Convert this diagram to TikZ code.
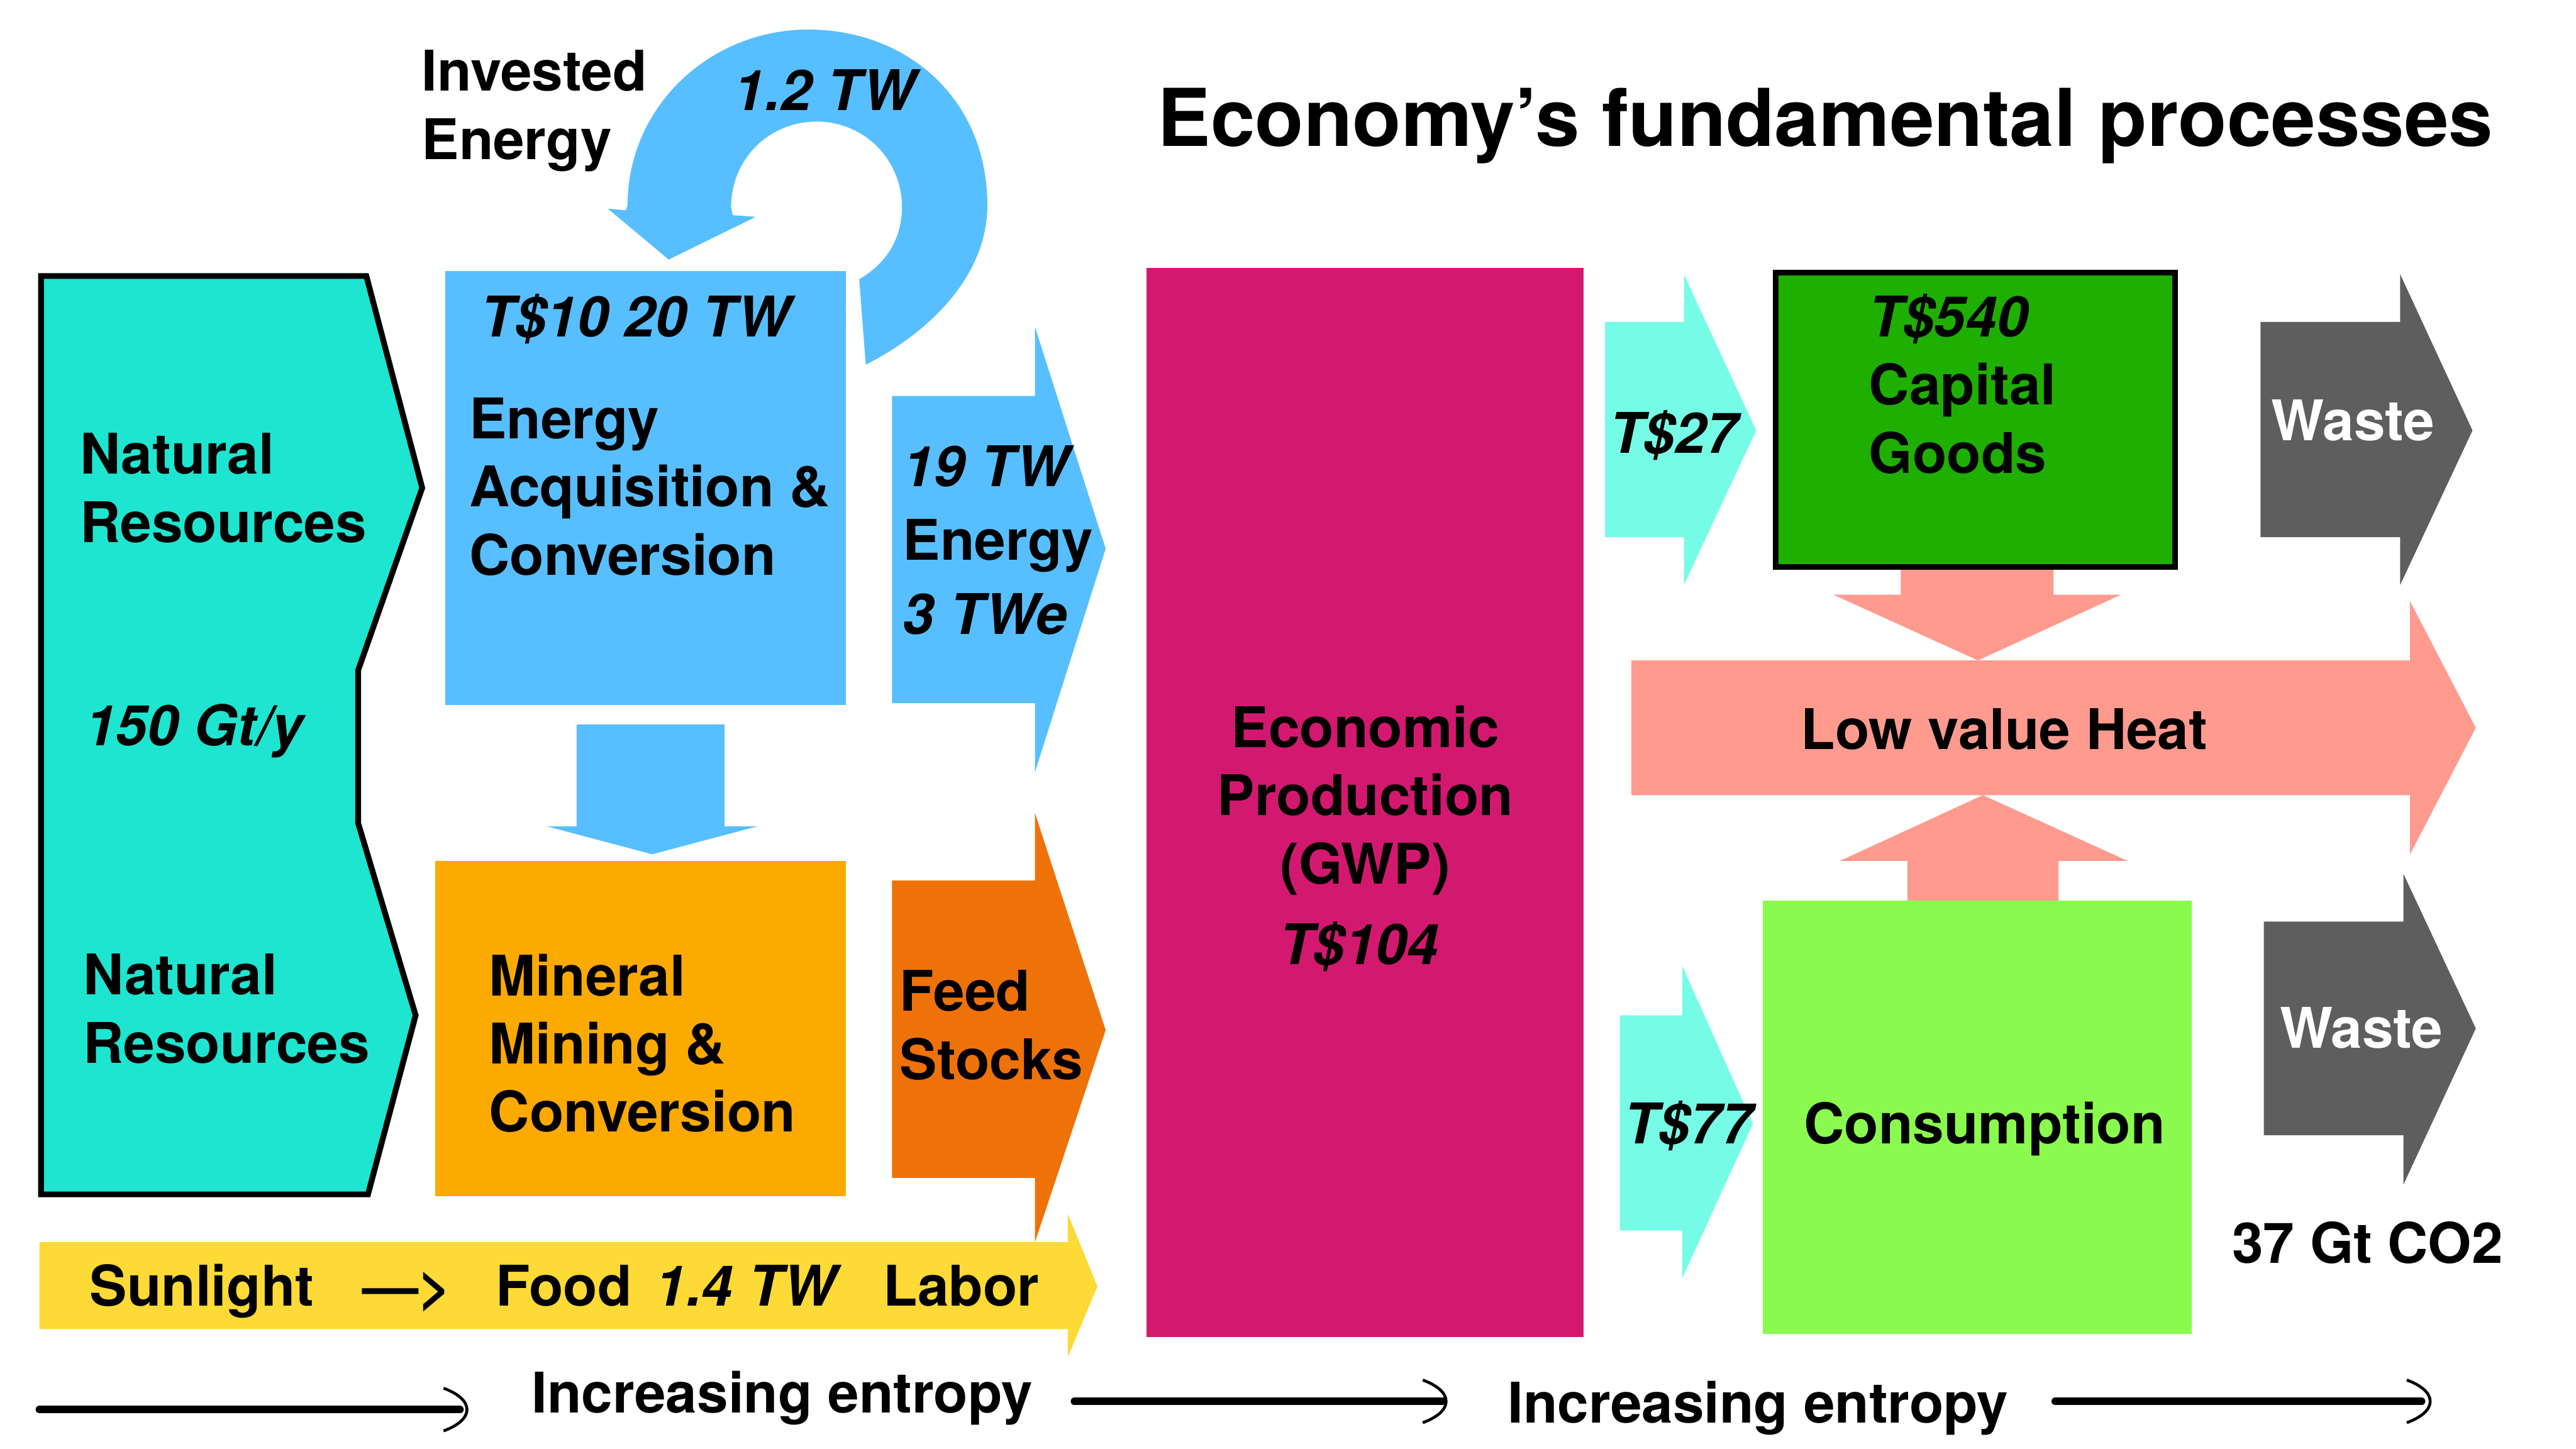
\documentclass[tikz,border=0pt]{standalone}
\usepackage{fontspec}
\setmainfont{TeX Gyre Heros}
\usepackage{xcolor}
\usepackage{tikz}

\definecolor{natres}{HTML}{1DE5D0}
\definecolor{energyblue}{HTML}{57BFFF}
\definecolor{mineral}{HTML}{FDAA00}
\definecolor{feed}{HTML}{EF7208}
\definecolor{sun}{HTML}{FDDA35}
\definecolor{gwp}{HTML}{D3196F}
\definecolor{money}{HTML}{76FCE6}
\definecolor{capital}{HTML}{1FAF00}
\definecolor{consume}{HTML}{8BFA4F}
\definecolor{heat}{HTML}{FF9A8F}
\definecolor{waste}{HTML}{5E5E5E}

\begin{document}
\begin{tikzpicture}[x=0.01cm, y=-0.01cm,
            font=\fontsize{9.7}{11.8}\selectfont\bfseries,
            lbl/.style={anchor=base west, inner sep=0pt, align=left},
            num/.style={lbl, font=\fontsize{9.7}{11.8}\selectfont\bfseries\itshape},
            entropy/.style={line width=1.3pt, line cap=round},
            entropyhead/.style={line width=0.5pt}]
        \useasboundingbox (0,0) rectangle (1568,882);

        \draw[fill=natres, line width=1pt] (25,168) -- (223,168) -- (257,297) -- (218,408) -- (218,501) -- (253,618) -- (224,727) -- (25,727) -- cycle;

        \fill[energyblue] (271,165) rectangle (515,429);
        \fill[energyblue] (527,222) .. controls (570,200) and (601,165) .. (601,125) .. controls (601,60) and (552,18) .. (492,18)
            .. controls (432,18) and (382,65) .. (382,125) -- (381,128) -- (370,127) -- (407,158) -- (460,132) -- (446,131) -- (445,126)
            .. controls (445,97) and (468,74) .. (497,74) .. controls (526,74) and (549,97) .. (549,126)
            .. controls (549,145) and (540,160) .. (523,170) -- cycle;
        \fill[energyblue] (351,441) -- (441,441) -- (441,503) -- (461,503) -- (397,520) -- (333,503) -- (351,503) -- cycle;
        \fill[mineral] (265,524) rectangle (515,728);

        \fill[energyblue] (543,241) -- (630,241) -- (630,199) -- (673,334) -- (630,470) -- (630,428) -- (543,428) -- cycle;
        \fill[feed] (543,536) -- (630,536) -- (630,495) -- (673,627) -- (630,756) -- (630,717) -- (543,717) -- cycle;
        \fill[sun] (24,756) -- (650,756) -- (650,739) -- (668,783) -- (650,826) -- (650,809) -- (24,809) -- cycle;

        \fill[gwp] (698,163) rectangle (964,814);

        \fill[money] (977,196) -- (1025,196) -- (1025,167) -- (1069,262) -- (1025,356) -- (1025,327) -- (977,327) -- cycle;
        \fill[money] (986,618) -- (1024,618) -- (1024,588) -- (1067,684) -- (1024,778) -- (1024,749) -- (986,749) -- cycle;
        \fill[heat] (993,402) -- (1467,402) -- (1467,366) -- (1507,443) -- (1467,520) -- (1467,484) -- (993,484) -- cycle;
        \fill[heat] (1157,345) -- (1250,345) -- (1250,362) -- (1291,362) -- (1204,402) -- (1116,362) -- (1157,362) -- cycle;
        \fill[heat] (1161,550) -- (1253,550) -- (1253,524) -- (1295,524) -- (1207,484) -- (1120,524) -- (1161,524) -- cycle;
        \draw[fill=capital, line width=1pt] (1081,166) rectangle (1324,345);
        \fill[consume] (1073,548) rectangle (1334,812);
        \fill[waste] (1376,196) -- (1461,196) -- (1461,167) -- (1505,262) -- (1461,356) -- (1461,327) -- (1376,327) -- cycle;
        \fill[waste] (1378,561) -- (1463,561) -- (1463,532) -- (1507,626) -- (1463,721) -- (1463,691) -- (1378,691) -- cycle;

        \node[lbl] (invested) at (256,97) {Invested\\Energy};
        \node[num] (loopval) at (446,67) {1.2 TW};
        \node[lbl, font=\fontsize{13.8}{16}\selectfont\bfseries] (title) at (704,89) {Economy’s fundamental processes};

        \node[lbl] (natural1) at (48,330) {Natural\\Resources};
        \node[num] (tonnes) at (51,454) {150 Gt/y};
        \node[lbl] (natural2) at (50,647) {Natural\\Resources};
        \node[num] (energyval) at (292,205) {T\$10 20 TW};
        \node[lbl] (energy) at (285,350) {Energy\\Acquisition \&\\Conversion};
        \node[lbl] (mineral) at (297,689) {Mineral\\Mining \&\\Conversion};
        \node[lbl] (energyflow) at (549,386) {\textit{19 TW}\\[1pt]Energy\\[1pt]\textit{3 TWe}};
        \node[lbl] (feedstocks) at (547,657) {Feed\\Stocks};

        \node[lbl] (sunlight) at (54,795) {Sunlight};
        \node[lbl] (sunarrow) at (220,795) {—>};
        \node[lbl] (food) at (301,795) {Food};
        \node[num] (foodval) at (398,795) {1.4 TW};
        \node[lbl] (labor) at (537,795) {Labor};

        \node[lbl, anchor=base, align=center] (gwp) at (831,538) {Economic\\Production\\(GWP)};
        \node[num, anchor=base] (gwpval) at (827,587) {T\$104};

        \node[num] (capitalval) at (979,276) {T\$27};
        \node[lbl] (capital) at (1137,288) {\textit{T\$540}\\Capital\\Goods};
        \node[lbl, white] (waste1) at (1382,268) {Waste};
        \node[lbl, anchor=base] (heat) at (1220,456) {Low value Heat};
        \node[num] (consumeval) at (988,696) {T\$77};
        \node[lbl, anchor=base] (consumption) at (1208,696) {Consumption};
        \node[lbl, white] (waste2) at (1387,638) {Waste};
        \node[lbl] (co2) at (1358,769) {37 Gt CO2};

        \draw[entropy] (24,858) -- (280,858);
        \draw[entropyhead] (270,845) .. controls (289,852) and (289,864) .. (270,871);
        \node[lbl] (entropy1) at (323,860) {Increasing entropy};
        \draw[entropy] (654,853) -- (878,853);
        \draw[entropyhead] (866,840) .. controls (885,847) and (885,859) .. (866,866);
        \node[lbl] (entropy2) at (917,866) {Increasing entropy};
        \draw[entropy] (1251,853) -- (1474,853);
        \draw[entropyhead] (1465,840) .. controls (1484,847) and (1484,859) .. (1465,866);
		\end{tikzpicture}
\end{document}
